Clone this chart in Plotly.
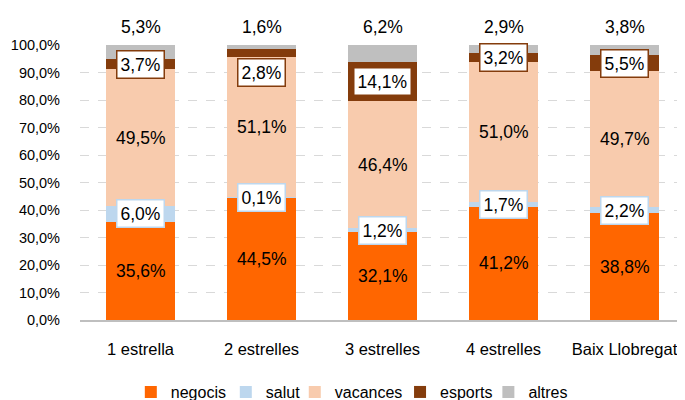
import plotly.graph_objects as go

categories = ["1 estrella", "2 estrelles", "3 estrelles", "4 estrelles", "Baix Llobregat"]
negocis = [35.6, 44.5, 32.1, 41.2, 38.8]
salut = [6.0, 0.1, 1.2, 1.7, 2.2]
vacances = [49.5, 51.1, 46.4, 51.0, 49.7]
esports = [3.7, 2.8, 14.1, 3.2, 5.5]
altres = [5.3, 1.6, 6.2, 2.9, 3.8]

series = [
    ("negocis", negocis, "#FF6600"),
    ("salut", salut, "#BDD7EE"),
    ("vacances", vacances, "#F8CBAD"),
    ("esports", esports, "#843C0C"),
    ("altres", altres, "#BFBFBF"),
]

FONT = "Liberation Sans Narrow, Arial Narrow, Liberation Sans, Arial, sans-serif"
LBL = 17.5

# legend entry anchor positions (paper x) — one legend per series to mimic the spacing
legend_x = [0.084, 0.241, 0.355, 0.529, 0.675]

def fmt(v):
    return f"{v:.1f}".replace(".", ",") + "%"

fig = go.Figure()
for k, (name, vals, color) in enumerate(series):
    fig.add_trace(go.Bar(
        x=categories, y=vals, name=name,
        marker=dict(color=color, line=dict(width=0)),
        hoverinfo="skip",
        legend="legend" if k == 0 else f"legend{k+1}",
    ))

annotations = []
for i, cat in enumerate(categories):
    base = 0.0
    for name, vals, color in series:
        v = vals[i]
        mid = base + v / 2
        if name in ("negocis", "vacances"):
            annotations.append(dict(x=cat, y=mid, text=fmt(v), showarrow=False,
                                    font=dict(size=LBL, color="#000000", family=FONT)))
        elif name in ("salut", "esports"):
            shift = -20 if (name == "esports" and v < 3.0) else 0
            annotations.append(dict(x=cat, y=mid, text=fmt(v), showarrow=False,
                                    yshift=shift,
                                    bgcolor="#FFFFFF", bordercolor=color, borderwidth=1.5,
                                    borderpad=3,
                                    font=dict(size=LBL, color="#000000", family=FONT)))
        else:
            annotations.append(dict(x=cat, y=100, text=fmt(v), showarrow=False,
                                    yanchor="middle", yshift=18,
                                    font=dict(size=LBL, color="#000000", family=FONT)))
        base += v

legend_common = dict(orientation="h", xanchor="left", y=-0.262, yanchor="middle",
                     font=dict(size=16, family=FONT, color="#000000"),
                     itemwidth=30, bgcolor="rgba(0,0,0,0)")
legends = {}
for k, lx in enumerate(legend_x):
    key = "legend" if k == 0 else f"legend{k+1}"
    legends[key] = dict(legend_common, x=lx)

fig.update_layout(
    barmode="stack",
    bargap=0.43,
    width=685, height=400,
    margin=dict(l=72, r=8, t=37, b=88, autoexpand=False),
    paper_bgcolor="#FFFFFF",
    plot_bgcolor="#FFFFFF",
    separators=",.",
    font=dict(family=FONT, size=LBL, color="#000000"),
    annotations=annotations,
    showlegend=True,
    xaxis=dict(showgrid=False, showline=True, linecolor="#BFBFBF", linewidth=2,
               ticks="", tickfont=dict(size=16.5, family=FONT, color="#000000"),
               ticklabelstandoff=13),
    yaxis=dict(range=[0, 100], dtick=10, tickformat=".1f", ticksuffix="%",
               showgrid=True, gridcolor="#D9D9D9", griddash="dash", gridwidth=1,
               zeroline=False, showline=False, ticks="",
               tickfont=dict(size=14.5, family=FONT, color="#000000"),
               ticklabelstandoff=19),
    **legends,
)
fig.write_html("out.html")
